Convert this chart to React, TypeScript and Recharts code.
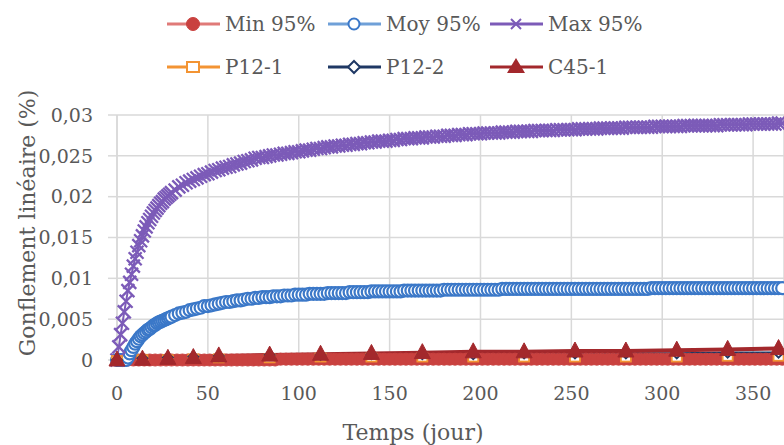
import React from 'react';
import { LineChart, Line, XAxis, YAxis, CartesianGrid, Legend } from 'recharts';

// Measurement days of the Moy / Max 95% series
const denseDays = [
  0, 1, 2, 3, 4, 5, 6, 7, 8, 9,
  10, 11, 12, 13, 14, 15, 16, 17, 18, 19,
  20, 21, 22, 23, 24, 25, 26, 27, 28, 29,
  30, 32, 34, 36, 38, 40, 42, 44, 46, 48,
  50, 52, 54, 56, 58, 60, 62, 64, 66, 68,
  70, 72, 74, 76, 78, 80, 82, 84, 86, 88,
  90, 92, 94, 96, 98, 100, 102, 104, 106, 108,
  110, 112, 114, 116, 118, 120, 122, 124, 126, 128,
  130, 132, 134, 136, 138, 140, 142, 144, 146, 148,
  150, 152, 154, 156, 158, 160, 162, 164, 166, 168,
  170, 172, 174, 176, 178, 180, 182, 184, 186, 188,
  190, 192, 194, 196, 198, 200, 202, 204, 206, 208,
  210, 212, 214, 216, 218, 220, 222, 224, 226, 228,
  230, 232, 234, 236, 238, 240, 242, 244, 246, 248,
  250, 252, 254, 256, 258, 260, 262, 264, 266, 268,
  270, 272, 274, 276, 278, 280, 282, 284, 286, 288,
  290, 292, 294, 296, 298, 300, 302, 304, 306, 308,
  310, 312, 314, 316, 318, 320, 322, 324, 326, 328,
  330, 332, 334, 336, 338, 340, 342, 344, 346, 348,
  350, 352, 354, 356, 358, 360, 362, 364, 366,
];

const max95 = [
  0, 0.0016, 0.0031, 0.0045, 0.0059, 0.0072, 0.0085, 0.0095, 0.0105, 0.0115,
  0.0124, 0.0132, 0.014, 0.0146, 0.0152, 0.0158, 0.0163, 0.0168, 0.0172, 0.0176,
  0.018, 0.0183, 0.0186, 0.0189, 0.0192, 0.0194, 0.0197, 0.0199, 0.0201, 0.0203,
  0.0205, 0.0208, 0.0212, 0.0214, 0.0217, 0.0219, 0.0221, 0.0223, 0.0225, 0.0227,
  0.0228, 0.023, 0.0232, 0.0233, 0.0235, 0.0236, 0.0237, 0.0239, 0.024, 0.0241,
  0.0243, 0.0244, 0.0245, 0.0247, 0.0248, 0.0248, 0.0249, 0.025, 0.0251, 0.0251,
  0.0252, 0.0253, 0.0253, 0.0254, 0.0255, 0.0255, 0.0256, 0.0257, 0.0257, 0.0258,
  0.0259, 0.0259, 0.026, 0.0261, 0.0261, 0.0262, 0.0262, 0.0263, 0.0263, 0.0264,
  0.0264, 0.0265, 0.0265, 0.0266, 0.0266, 0.0267, 0.0267, 0.0268, 0.0268, 0.0268,
  0.0269, 0.0269, 0.027, 0.027, 0.0271, 0.0271, 0.0271, 0.0272, 0.0272, 0.0272,
  0.0273, 0.0273, 0.0273, 0.0274, 0.0274, 0.0274, 0.0275, 0.0275, 0.0275, 0.0276,
  0.0276, 0.0276, 0.0277, 0.0277, 0.0277, 0.0277, 0.0278, 0.0278, 0.0278, 0.0278,
  0.0278, 0.0279, 0.0279, 0.0279, 0.0279, 0.028, 0.028, 0.028, 0.028, 0.028,
  0.0281, 0.0281, 0.0281, 0.0281, 0.0281, 0.0281, 0.0282, 0.0282, 0.0282, 0.0282,
  0.0282, 0.0282, 0.0283, 0.0283, 0.0283, 0.0283, 0.0283, 0.0283, 0.0284, 0.0284,
  0.0284, 0.0284, 0.0284, 0.0284, 0.0284, 0.0285, 0.0285, 0.0285, 0.0285, 0.0285,
  0.0285, 0.0285, 0.0285, 0.0286, 0.0286, 0.0286, 0.0286, 0.0286, 0.0286, 0.0286,
  0.0286, 0.0287, 0.0287, 0.0287, 0.0287, 0.0287, 0.0287, 0.0287, 0.0287, 0.0287,
  0.0287, 0.0288, 0.0288, 0.0288, 0.0288, 0.0288, 0.0288, 0.0288, 0.0288, 0.0289,
  0.0289, 0.0289, 0.0289, 0.0289, 0.0289, 0.0289, 0.0289, 0.029, 0.029,
];

const moy95 = [
  0, 0, 0, 0, 0, 0, 0.0003, 0.0008, 0.0012, 0.0016,
  0.002, 0.0023, 0.0026, 0.0029, 0.0031, 0.0033, 0.0035, 0.0037, 0.0038, 0.004,
  0.0042, 0.0043, 0.0045, 0.0046, 0.0047, 0.0048, 0.0049, 0.005, 0.0051, 0.0052,
  0.0053, 0.0055, 0.0057, 0.0058, 0.0059, 0.0061, 0.0062, 0.0063, 0.0064, 0.0066,
  0.0066, 0.0067, 0.0068, 0.0069, 0.007, 0.0071, 0.0071, 0.0072, 0.0073, 0.0073,
  0.0074, 0.0075, 0.0075, 0.0076, 0.0076, 0.0077, 0.0077, 0.0077, 0.0078, 0.0078,
  0.0078, 0.0079, 0.0079, 0.0079, 0.008, 0.008, 0.008, 0.008, 0.0081, 0.0081,
  0.0081, 0.0081, 0.0081, 0.0082, 0.0082, 0.0082, 0.0082, 0.0082, 0.0082, 0.0083,
  0.0083, 0.0083, 0.0083, 0.0083, 0.0083, 0.0084, 0.0084, 0.0084, 0.0084, 0.0084,
  0.0084, 0.0084, 0.0084, 0.0084, 0.0085, 0.0085, 0.0085, 0.0085, 0.0085, 0.0085,
  0.0085, 0.0085, 0.0085, 0.0085, 0.0085, 0.0086, 0.0086, 0.0086, 0.0086, 0.0086,
  0.0086, 0.0086, 0.0086, 0.0086, 0.0086, 0.0086, 0.0086, 0.0086, 0.0086, 0.0086,
  0.0086, 0.0087, 0.0087, 0.0087, 0.0087, 0.0087, 0.0087, 0.0087, 0.0087, 0.0087,
  0.0087, 0.0087, 0.0087, 0.0087, 0.0087, 0.0087, 0.0087, 0.0087, 0.0087, 0.0087,
  0.0087, 0.0087, 0.0087, 0.0087, 0.0087, 0.0087, 0.0087, 0.0087, 0.0087, 0.0087,
  0.0087, 0.0087, 0.0087, 0.0087, 0.0087, 0.0087, 0.0087, 0.0087, 0.0087, 0.0087,
  0.0087, 0.0087, 0.0088, 0.0088, 0.0088, 0.0088, 0.0088, 0.0088, 0.0088, 0.0088,
  0.0088, 0.0088, 0.0088, 0.0088, 0.0088, 0.0088, 0.0088, 0.0088, 0.0088, 0.0088,
  0.0088, 0.0088, 0.0088, 0.0088, 0.0088, 0.0088, 0.0088, 0.0088, 0.0088, 0.0088,
  0.0088, 0.0088, 0.0088, 0.0088, 0.0088, 0.0088, 0.0088, 0.0088, 0.0088,
];

// Measurement days of the Min 95% series
const minDays = [
  0, 3, 6, 9, 12, 15, 18, 21, 24, 27,
  30, 33, 36, 39, 42, 45, 48, 51, 54, 57,
  60, 63, 66, 69, 72, 75, 78, 81, 84, 87,
  90, 93, 96, 99, 102, 105, 108, 111, 114, 117,
  120, 123, 126, 129, 132, 135, 138, 141, 144, 147,
  150, 153, 156, 159, 162, 165, 168, 171, 174, 177,
  180, 183, 186, 189, 192, 195, 198, 201, 204, 207,
  210, 213, 216, 219, 222, 225, 228, 231, 234, 237,
  240, 243, 246, 249, 252, 255, 258, 261, 264, 267,
  270, 273, 276, 279, 282, 285, 288, 291, 294, 297,
  300, 303, 306, 309, 312, 315, 318, 321, 324, 327,
  330, 333, 336, 339, 342, 345, 348, 351, 354, 357,
  360, 363, 366,
];

const min95 = [
  0, 0, 0, 0, 0, 0, 0, 0, 0, 0,
  0, 0, 0, 0, 0, 0, 0, 0, 0, 0,
  0, 0, 0, 0, 0, 0, 0, 0, 0, 0,
  0.0001, 0.0001, 0.0001, 0.0001, 0.0001, 0.0001, 0.0001, 0.0001, 0.0001, 0.0001,
  0.0001, 0.0001, 0.0001, 0.0001, 0.0001, 0.0001, 0.0001, 0.0001, 0.0001, 0.0001,
  0.0001, 0.0001, 0.0001, 0.0001, 0.0001, 0.0001, 0.0001, 0.0001, 0.0001, 0.0001,
  0.0001, 0.0001, 0.0001, 0.0001, 0.0001, 0.0001, 0.0001, 0.0001, 0.0001, 0.0001,
  0.0001, 0.0001, 0.0001, 0.0001, 0.0001, 0.0001, 0.0001, 0.0001, 0.0001, 0.0001,
  0.0001, 0.0001, 0.0001, 0.0001, 0.0001, 0.0001, 0.0001, 0.0001, 0.0001, 0.0001,
  0.0001, 0.0001, 0.0001, 0.0001, 0.0001, 0.0001, 0.0001, 0.0001, 0.0001, 0.0001,
  0.0001, 0.0001, 0.0001, 0.0001, 0.0001, 0.0001, 0.0001, 0.0001, 0.0001, 0.0001,
  0.0001, 0.0001, 0.0001, 0.0001, 0.0001, 0.0001, 0.0001, 0.0001, 0.0001, 0.0001,
  0.0001, 0.0001, 0.0001,
];

// Measurement days of the specimen series
const specimenDays = [0, 14, 28, 42, 56, 84, 112, 140, 168, 196, 224, 252, 280, 308, 336, 364];
const p12_1 = [0, 0.0001, 0.0001, 0.0002, 0.0002, 0.0002, 0.0003, 0.0003, 0.0003, 0.0003, 0.0003, 0.0003, 0.0003, 0.0003, 0.0004, 0.0004];
const p12_2 = [0, 0.0002, 0.0003, 0.0004, 0.0005, 0.0006, 0.0006, 0.0007, 0.0007, 0.0007, 0.0008, 0.0008, 0.0008, 0.0008, 0.0009, 0.0009];
const c45_1 = [0, 0.0001, 0.0002, 0.0003, 0.0005, 0.0006, 0.0007, 0.0008, 0.0009, 0.001, 0.001, 0.0011, 0.0011, 0.0012, 0.0013, 0.0014];

const xTicks = [0, 50, 100, 150, 200, 250, 300, 350];
const yTicks = [0, 0.005, 0.01, 0.015, 0.02, 0.025, 0.03];

const denseData = denseDays.map((d, i) => ({ day: d, moy: moy95[i], max: max95[i] }));
const minData = minDays.map((d, i) => ({ day: d, min: min95[i] }));
const specimenData = specimenDays.map((d, i) => ({ day: d, p1: p12_1[i], p2: p12_2[i], c45: c45_1[i] }));

const FONT = '"DejaVu Serif", serif';
const TEXT = '#595959';

const C = {
  minLine: '#E07A78',
  minMark: '#C9413F',
  moyLine: '#6FA0D8',
  moyMark: '#3B78C8',
  max: '#7C5BB8',
  p1: '#F39433',
  p2: '#1F3864',
  c45: '#A3282C',
};

const blank = (p: any) => <g key={`b-${p.index}`} />;

const circleFilled = (color: string, r: number) => (p: any) =>
  p.cx == null || p.cy == null ? blank(p) : (
    <circle key={`c-${p.index}`} cx={p.cx} cy={p.cy} r={r} fill={color} stroke={color} strokeWidth={1} />
  );

const circleOpen = (color: string, r: number, w: number) => (p: any) =>
  p.cx == null || p.cy == null ? blank(p) : (
    <circle key={`o-${p.index}`} cx={p.cx} cy={p.cy} r={r} fill="#fff" stroke={color} strokeWidth={w} />
  );

const crossMark = (color: string, s: number, w: number) => (p: any) =>
  p.cx == null || p.cy == null ? blank(p) : (
    <path
      key={`x-${p.index}`}
      d={`M${p.cx - s},${p.cy - s}L${p.cx + s},${p.cy + s}M${p.cx + s},${p.cy - s}L${p.cx - s},${p.cy + s}`}
      stroke={color}
      strokeWidth={w}
      fill="none"
    />
  );

const squareOpen = (color: string) => (p: any) =>
  p.cx == null || p.cy == null ? blank(p) : (
    <rect key={`s-${p.index}`} x={p.cx - 5} y={p.cy - 4} width={10} height={8} fill="#fff" stroke={color} strokeWidth={1.8} />
  );

const diamondOpen = (color: string) => (p: any) =>
  p.cx == null || p.cy == null ? blank(p) : (
    <path
      key={`d-${p.index}`}
      d={`M${p.cx},${p.cy - 5}L${p.cx + 5},${p.cy}L${p.cx},${p.cy + 5}L${p.cx - 5},${p.cy}Z`}
      fill="#fff"
      stroke={color}
      strokeWidth={1.8}
    />
  );

const triangle = (color: string) => (p: any) =>
  p.cx == null || p.cy == null ? blank(p) : (
    <path
      key={`t-${p.index}`}
      d={`M${p.cx},${p.cy - 9}L${p.cx + 8},${p.cy + 6}L${p.cx - 8},${p.cy + 6}Z`}
      fill={color}
      stroke={color}
      strokeWidth={1}
    />
  );

const legendRows = [
  { name: 'Min 95%', x: 167, y: 24, line: C.minLine, kind: 'circle', mark: C.minMark },
  { name: 'Moy 95%', x: 328, y: 24, line: C.moyLine, kind: 'open', mark: C.moyMark },
  { name: 'Max 95%', x: 490, y: 24, line: C.max, kind: 'cross', mark: C.max },
  { name: 'P12-1', x: 167, y: 67, line: C.p1, kind: 'square', mark: C.p1 },
  { name: 'P12-2', x: 328, y: 67, line: C.p2, kind: 'diamond', mark: C.p2 },
  { name: 'C45-1', x: 490, y: 67, line: C.c45, kind: 'triangle', mark: C.c45 },
];

const renderLegendMarker = (it: any) => {
  const cx = it.x + 26;
  const cy = it.y;
  const p = { cx, cy, index: it.name };
  switch (it.kind) {
    case 'circle':
      return circleFilled(it.mark, 6.5)(p);
    case 'open':
      return circleOpen(it.mark, 5.5, 2)(p);
    case 'cross':
      return crossMark(it.mark, 5, 2)(p);
    case 'square':
      return (
        <rect key="sq" x={cx - 6} y={cy - 5} width={12} height={10} fill="#fff" stroke={it.mark} strokeWidth={2} />
      );
    case 'diamond':
      return (
        <path key="dm" d={`M${cx},${cy - 6}L${cx + 6},${cy}L${cx},${cy + 6}L${cx - 6},${cy}Z`} fill="#fff" stroke={it.mark} strokeWidth={2} />
      );
    default:
      return (
        <path key="tr" d={`M${cx},${cy - 9}L${cx + 9},${cy + 6}L${cx - 9},${cy + 6}Z`} fill={it.mark} />
      );
  }
};

const renderLegend = () => (
  <svg width={784} height={95} style={{ display: 'block' }}>
    {legendRows.map((it) => (
      <g key={it.name}>
        <line x1={it.x} y1={it.y} x2={it.x + 53} y2={it.y} stroke={it.line} strokeWidth={3} />
        {renderLegendMarker(it)}
        <text x={it.x + 58} y={it.y + 7} fontFamily={FONT} fontSize={20} fill={TEXT}>
          {it.name}
        </text>
      </g>
    ))}
  </svg>
);

const fmtY = (v: number) => String(v).replace('.', ',');

export default function App() {
  return (
    <div style={{ position: 'absolute', left: 0, top: 0, width: 784, height: 445, background: '#fff', overflow: 'hidden' }}>
      <LineChart width={784} height={445} margin={{ top: 115, right: 0, bottom: 0, left: 0 }}>
        <CartesianGrid stroke="#D9D9D9" strokeWidth={1.5} />
        <XAxis
          type="number"
          dataKey="day"
          domain={[0, 366.5]}
          ticks={xTicks}
          height={85}
          axisLine={{ stroke: '#BFBFBF', strokeWidth: 1.5 }}
          tickLine={false}
          tickSize={6}
          tickMargin={21}
          tick={{ fontFamily: FONT, fontSize: 19, fill: TEXT }}
          allowDecimals={false}
          label={{
            content: () => (
              <text x={413} y={440} textAnchor="middle" fontFamily={FONT} fontSize={22} fill={TEXT}>
                Temps (jour)
              </text>
            ),
          }}
        />
        <YAxis
          type="number"
          domain={[0, 0.03]}
          ticks={yTicks}
          width={117}
          axisLine={{ stroke: '#D9D9D9', strokeWidth: 1.5 }}
          tickLine={{ stroke: '#D9D9D9', strokeWidth: 1.5 }}
          tickSize={9}
          tickMargin={15}
          tickFormatter={fmtY}
          tick={{ fontFamily: FONT, fontSize: 19, fill: TEXT }}
          label={{
            content: () => (
              <text transform="translate(35,223) rotate(-90)" textAnchor="middle" fontFamily={FONT} fontSize={22} fill={TEXT}>
                Gonflement linéaire (%)
              </text>
            ),
          }}
        />
        <Legend
          layout="vertical"
          align="center"
          verticalAlign="middle"
          wrapperStyle={{ top: 0, left: 0, width: 784, height: 95 }}
          content={renderLegend}
        />
        <Line data={minData} dataKey="min" name="Min 95%" stroke={C.minLine} strokeWidth={2} dot={circleFilled(C.minMark, 6)} isAnimationActive={false} />
        <Line data={denseData} dataKey="moy" name="Moy 95%" stroke={C.moyLine} strokeWidth={2} dot={circleOpen(C.moyMark, 6, 2.2)} isAnimationActive={false} />
        <Line data={denseData} dataKey="max" name="Max 95%" stroke={C.max} strokeWidth={2} dot={crossMark(C.max, 6.5, 2.3)} isAnimationActive={false} />
        <Line data={specimenData} dataKey="p1" name="P12-1" stroke={C.p1} strokeWidth={3.5} dot={squareOpen(C.p1)} isAnimationActive={false} />
        <Line data={specimenData} dataKey="p2" name="P12-2" stroke={C.p2} strokeWidth={2.5} dot={diamondOpen(C.p2)} isAnimationActive={false} />
        <Line data={specimenData} dataKey="c45" name="C45-1" stroke={C.c45} strokeWidth={4} dot={triangle(C.c45)} isAnimationActive={false} />
      </LineChart>
    </div>
  );
}
